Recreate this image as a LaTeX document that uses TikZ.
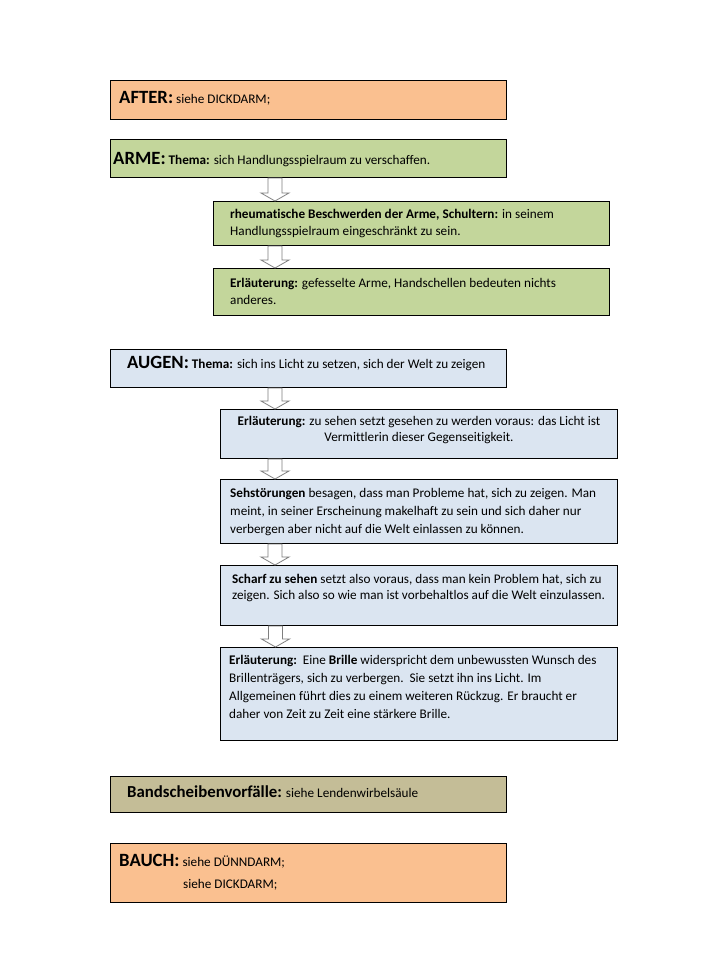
\documentclass[tikz,border=0pt]{standalone}
\usepackage{fontspec}
\setmainfont{Carlito}[Ligatures={NoCommon}]
\definecolor{peach}{HTML}{FAC090}
\definecolor{olive}{HTML}{C3D69B}
\definecolor{paleblue}{HTML}{DBE5F1}
\definecolor{tan}{HTML}{C4BD97}
\definecolor{arrowgrey}{HTML}{7F7F7F}
\newcommand\leftlines[1]{\vtop{\halign{##\hfil\cr#1\crcr}}}
\newcommand\midlines[1]{\vtop{\halign{\hfil##\hfil\cr#1\crcr}}}
\newcommand\bigt[1]{{\fontsize{18.7}{20}\selectfont\bfseries #1}}
\tikzset{
  box/.style={draw=black, line width=1pt, inner sep=0pt, anchor=north west},
  txt/.style={inner sep=0pt, anchor=base west, font=\fontsize{13.2}{18.3}\selectfont},
  barrow/.style={draw=arrowgrey, fill=white, line width=0.8pt, line join=miter}
}
\newcommand\blockarrow[3]{% #1 source, #2 target, #3 axis coordinate
  \draw[barrow] ([xshift=-7pt]#3 |- #1.south) -- ([xshift=-7pt,yshift=8pt]#3 |- #2.north)
    -- ([xshift=-14pt,yshift=8pt]#3 |- #2.north) -- (#3 |- #2.north)
    -- ([xshift=14pt,yshift=8pt]#3 |- #2.north) -- ([xshift=7pt,yshift=8pt]#3 |- #2.north)
    -- ([xshift=7pt]#3 |- #1.south) -- cycle;}
\begin{document}
\begin{tikzpicture}[x=1pt,y=-1pt]
\useasboundingbox (0,0) rectangle (704,971);
\fill[white] (0,0) rectangle (704,971);
\coordinate (axA) at (275,0);
\coordinate (axB) at (275.5,0);
% boxes
\node[box, fill=peach, minimum width=396pt, minimum height=39pt] (after) at (110,80) {};
\node[box, fill=olive, minimum width=396pt, minimum height=38pt] (arme) at (110,139) {};
\node[box, fill=olive, minimum width=396pt, minimum height=44pt] (rheum) at (213,201) {};
\node[box, fill=olive, minimum width=396pt, minimum height=47pt] (erlarme) at (213,268) {};
\node[box, fill=paleblue, minimum width=396pt, minimum height=38pt] (augen) at (110,349) {};
\node[box, fill=paleblue, minimum width=397pt, minimum height=49pt] (erlaugen) at (220,409) {};
\node[box, fill=paleblue, minimum width=397pt, minimum height=64pt] (seh) at (220,479) {};
\node[box, fill=paleblue, minimum width=397pt, minimum height=60pt] (scharf) at (220,565) {};
\node[box, fill=paleblue, minimum width=397pt, minimum height=93pt] (brille) at (220,647) {};
\node[box, fill=tan, minimum width=396pt, minimum height=36pt] (band) at (110,776) {};
\node[box, fill=peach, minimum width=396pt, minimum height=59pt] (bauch) at (110,843) {};
% arrows
\blockarrow{arme}{rheum}{axA}
\blockarrow{rheum}{erlarme}{axA}
\blockarrow{augen}{erlaugen}{axA}
\blockarrow{erlaugen}{seh}{axA}
\blockarrow{seh}{scharf}{axA}
\blockarrow{scharf}{brille}{axB}
% texts
\node[txt] (tafter) at (119,103) {\bigt{AFTER:} siehe DICKDARM;};
\node[txt] (tarme) at (113,164) {\bigt{ARME:} \textbf{Thema:} sich Handlungsspielraum zu verschaffen.};
\node[txt] (trheum) at (230,218) {\baselineskip=17.5pt\leftlines{\textbf{rheumatische Beschwerden der Arme, Schultern:} in seinem\cr Handlungsspielraum eingeschränkt zu sein.}};
\node[txt] (terlarme) at (230,287) {\baselineskip=17.5pt\leftlines{\textbf{Erläuterung:} gefesselte Arme, Handschellen bedeuten nichts\cr anderes.}};
\node[txt] (taugen) at (127,368) {\bigt{AUGEN:} \textbf{Thema:} sich ins Licht zu setzen, sich der Welt zu zeigen};
\node[txt, anchor=base] (terlaugen) at (419,425) {\baselineskip=16.5pt\midlines{\textbf{Erläuterung:} zu sehen setzt gesehen zu werden voraus: das Licht ist\cr Vermittlerin dieser Gegenseitigkeit.}};
\node[txt] (tseh) at (230,497) {\leftlines{\textbf{Sehstörungen} besagen, dass man Probleme hat, sich zu zeigen. Man\cr meint, in seiner Erscheinung makelhaft zu sein und sich daher nur\cr verbergen aber nicht auf die Welt einlassen zu können.}};
\node[txt] (tscharf) at (232,583) {\baselineskip=16.8pt\leftlines{\textbf{Scharf zu sehen} setzt also voraus, dass man kein Problem hat, sich zu\cr zeigen. Sich also so wie man ist vorbehaltlos auf die Welt einzulassen.}};
\node[txt] (tbrille) at (229,664) {\leftlines{\textbf{Erläuterung:}\ \ Eine \textbf{Brille} widerspricht dem unbewussten Wunsch des\cr Brillenträgers, sich zu verbergen.\ \ Sie setzt ihn ins Licht. Im\cr Allgemeinen führt dies zu einem weiteren Rückzug. Er braucht er\cr daher von Zeit zu Zeit eine stärkere Brille.}};
\node[txt] (tband) at (127,797) {{\fontsize{16.8}{18}\selectfont\bfseries Bandscheibenvorfälle:} siehe Lendenwirbelsäule};
\node[txt] (tbauch) at (119,866.5) {\baselineskip=21.5pt\leftlines{\bigt{BAUCH:} siehe DÜNNDARM;\cr\hskip 64pt siehe DICKDARM;}};
\end{tikzpicture}
\end{document}
